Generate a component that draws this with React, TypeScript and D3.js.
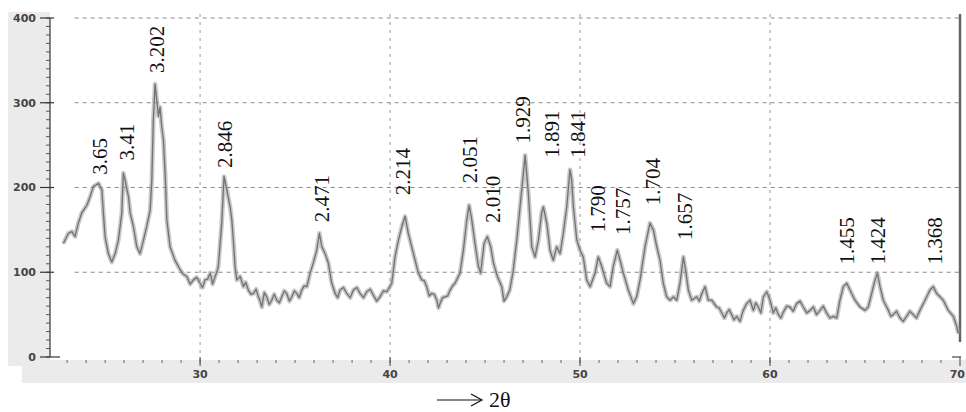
import React from "react";
import * as d3 from "d3";

// XRD trace: [2theta, counts]
const pattern: [number, number][] = [
  [22.8, 134], [23.07, 146], [23.25, 148], [23.42, 142], [23.59, 158], [23.77, 170],
  [24.04, 179], [24.21, 189], [24.38, 201], [24.65, 205], [24.83, 197], [24.91, 170],
  [25.0, 142], [25.17, 122], [25.35, 112], [25.53, 122], [25.7, 138], [25.88, 170],
  [25.96, 217], [26.05, 209], [26.23, 189], [26.32, 170], [26.49, 154], [26.67, 130],
  [26.84, 122], [27.02, 138], [27.19, 154], [27.37, 173], [27.46, 209], [27.54, 280],
  [27.63, 322], [27.72, 303], [27.81, 284], [27.89, 295], [27.98, 272], [28.07, 256],
  [28.16, 217], [28.25, 162], [28.42, 130], [28.68, 114], [28.95, 103], [29.1, 98],
  [29.3, 95], [29.48, 86], [29.65, 91], [29.82, 94], [30.0, 87], [30.13, 82],
  [30.26, 91], [30.4, 92], [30.53, 99], [30.66, 86], [30.79, 95], [30.88, 100],
  [30.96, 107], [31.14, 158], [31.26, 213], [31.41, 197], [31.58, 177], [31.67, 162],
  [31.75, 138], [31.84, 107], [31.93, 91], [32.11, 95], [32.28, 83], [32.4, 88],
  [32.54, 79], [32.68, 74], [32.81, 75], [32.95, 80], [33.07, 71], [33.16, 66],
  [33.25, 59], [33.38, 76], [33.51, 71], [33.64, 62], [33.77, 67], [33.9, 74],
  [34.04, 67], [34.17, 64], [34.3, 71], [34.43, 78], [34.56, 75], [34.7, 66],
  [34.83, 71], [34.96, 78], [35.09, 75], [35.22, 70], [35.35, 79], [35.48, 84],
  [35.62, 83], [35.79, 99], [35.96, 111], [36.14, 126], [36.28, 146], [36.41, 130],
  [36.58, 122], [36.75, 111], [36.93, 87], [37.11, 75], [37.24, 70], [37.37, 79],
  [37.55, 82], [37.72, 75], [37.9, 70], [38.07, 79], [38.25, 82], [38.42, 75],
  [38.6, 70], [38.77, 77], [38.95, 80], [39.12, 73], [39.3, 66], [39.47, 71],
  [39.65, 78], [39.83, 77], [40.09, 87], [40.26, 118], [40.44, 138], [40.62, 154],
  [40.79, 166], [40.96, 146], [41.14, 130], [41.32, 114], [41.49, 99], [41.67, 91],
  [41.8, 90], [41.93, 83], [42.06, 72], [42.19, 75], [42.33, 74], [42.46, 67],
  [42.55, 58], [42.63, 63], [42.76, 70], [42.89, 71], [43.03, 72], [43.16, 79],
  [43.29, 84], [43.42, 87], [43.68, 99], [43.86, 126], [44.04, 162], [44.16, 179],
  [44.3, 162], [44.47, 134], [44.65, 107], [44.77, 99], [44.95, 134], [45.12, 142],
  [45.3, 130], [45.44, 111], [45.65, 95], [45.88, 83], [46.0, 66], [46.14, 71],
  [46.3, 79], [46.47, 100], [46.67, 138], [46.84, 177], [47.02, 217], [47.11, 238],
  [47.19, 217], [47.28, 193], [47.46, 130], [47.63, 118], [47.81, 138], [47.98, 170],
  [48.07, 177], [48.25, 158], [48.42, 126], [48.59, 114], [48.77, 130], [48.95, 122],
  [49.12, 146], [49.3, 177], [49.47, 221], [49.56, 209], [49.65, 177], [49.83, 138],
  [50.0, 126], [50.17, 118], [50.35, 91], [50.53, 83], [50.79, 99], [50.96, 118],
  [51.14, 107], [51.4, 87], [51.58, 83], [51.75, 107], [51.96, 126], [52.11, 114],
  [52.28, 99], [52.54, 79], [52.81, 63], [52.98, 71], [53.16, 91], [53.42, 130],
  [53.68, 158], [53.86, 150], [54.04, 130], [54.21, 114], [54.38, 87], [54.56, 71],
  [54.74, 67], [54.91, 71], [55.09, 67], [55.26, 87], [55.44, 118], [55.58, 99],
  [55.7, 79], [55.88, 67], [56.14, 71], [56.28, 66], [56.41, 75], [56.58, 83],
  [56.75, 67], [56.93, 67], [57.19, 59], [57.32, 58], [57.46, 52], [57.6, 46],
  [57.72, 52], [57.85, 56], [57.98, 50], [58.1, 44], [58.25, 48], [58.42, 42],
  [58.52, 50], [58.59, 55], [58.77, 63], [58.95, 67], [59.12, 55], [59.25, 64],
  [59.38, 59], [59.52, 52], [59.65, 71], [59.83, 77], [60.0, 67], [60.17, 52],
  [60.3, 58], [60.44, 50], [60.57, 46], [60.7, 53], [60.88, 60], [61.05, 59],
  [61.22, 54], [61.4, 63], [61.58, 66], [61.75, 59], [61.93, 52], [62.11, 55],
  [62.28, 59], [62.45, 50], [62.63, 55], [62.8, 60], [62.98, 52], [63.15, 46],
  [63.33, 48], [63.51, 46], [63.68, 67], [63.86, 83], [64.04, 87], [64.21, 79],
  [64.47, 67], [64.74, 59], [65.0, 55], [65.17, 59], [65.35, 75], [65.53, 91],
  [65.65, 99], [65.79, 83], [65.96, 67], [66.23, 55], [66.36, 48], [66.49, 50],
  [66.66, 54], [66.84, 46], [67.01, 42], [67.19, 48], [67.36, 54], [67.54, 50],
  [67.71, 46], [67.89, 55], [68.16, 67], [68.42, 79], [68.59, 83], [68.77, 75],
  [68.95, 71], [69.12, 67], [69.38, 55], [69.65, 48], [69.83, 36], [69.91, 28],
];

// d-spacing labels and where their text starts (2theta, counts)
const peakLabels = ["3.65", "3.41", "3.202", "2.846", "2.471", "2.214", "2.051", "2.010", "1.929",
  "1.891", "1.841", "1.790", "1.757", "1.704", "1.657", "1.455", "1.424", "1.368"];
const peakTheta = [24.74, 26.16, 27.74, 31.32, 36.42, 40.68, 44.21, 45.42, 47.0,
  48.53, 49.89, 50.95, 52.26, 53.84, 55.53, 64.05, 65.68, 68.68];
const peakBase = [215, 232, 335, 223, 159, 191, 205, 158, 252,
  235, 235, 147, 144, 179, 138, 109, 109, 109];

const yTicks = [0, 100, 200, 300, 400];
const xTicks = [30, 40, 50, 60, 70];

const W = 966, H = 412;

export default function App() {
  const x = d3.scaleLinear().domain([22.1, 70]).range([50, 960]);
  const y = d3.scaleLinear().domain([0, 400]).range([357, 18]);

  const line = d3.line<[number, number]>()
    .x(d => x(d[0]))
    .y(d => y(d[1]))
    .curve(d3.curveLinear);
  const path = line(pattern) || "";

  const yMinor = d3.range(0, 401, 10);
  const xMinor = d3.range(23, 70, 1);
  const tickFont = { fontFamily: "DejaVu Sans", fontWeight: "bold" as const, fontSize: 11, fill: "#444" };

  return (
    <svg width={W} height={H} style={{ position: "absolute", left: 0, top: 0, background: "#fff" }}>
      {/* scanned frame bands */}
      <rect x={8} y={12} width={42} height={371} fill="#ebebeb" />
      <rect x={8} y={360} width={958} height={23} fill="#ebebeb" />
      <rect x={8} y={366} width={14} height={17} fill="#fff" />
      <rect x={50} y={12} width={910} height={348} fill="#fff" />

      {/* grid */}
      {yTicks.filter(t => t > 0).map(t => (
        <line key={"gy" + t} x1={x(23.4)} x2={960} y1={y(t)} y2={y(t)}
          stroke="#888" strokeWidth={1} strokeDasharray="4,4" />
      ))}
      {xTicks.filter(t => t < 70).map(t => (
        <line key={"gx" + t} x1={x(t)} x2={x(t)} y1={14} y2={360}
          stroke="#999" strokeWidth={1} strokeDasharray="3,5" />
      ))}

      {/* y axis */}
      <line x1={50} x2={50} y1={y(400)} y2={y(0)} stroke="#333" strokeWidth={1.2} />
      {yMinor.map(t => (
        <line key={"ym" + t} x1={46} x2={50} y1={y(t)} y2={y(t)} stroke="#555" strokeWidth={1} />
      ))}
      {yTicks.map(t => (
        <g key={"yt" + t}>
          <line x1={40} x2={t === 0 ? 60 : 54} y1={y(t)} y2={y(t)} stroke="#333" strokeWidth={1.2} />
          <text x={36} y={y(t)} dy="0.35em" textAnchor="end" {...tickFont}>{t}</text>
        </g>
      ))}

      {/* x axis */}
      {xMinor.map(t => (
        <line key={"xm" + t} x1={x(t)} x2={x(t)} y1={360} y2={363} stroke="#666" strokeWidth={1} />
      ))}
      {xTicks.map(t => (
        <g key={"xt" + t}>
          <line x1={x(t)} x2={x(t)} y1={357} y2={366} stroke="#444" strokeWidth={1} />
          <text x={t === 70 ? W - 1 : x(t)} y={378} textAnchor={t === 70 ? "end" : "middle"} {...tickFont}>{t}</text>
        </g>
      ))}
      <line x1={952} x2={961} y1={357} y2={357} stroke="#444" strokeWidth={1.2} />

      {/* right border */}
      <line x1={960} x2={960} y1={14} y2={342} stroke="#666" strokeWidth={2.5} />

      {/* trace */}
      <path d={path} fill="none" stroke="#9a9a9a" strokeWidth={4.5} strokeLinejoin="round" opacity={0.55} />
      <path d={path} fill="none" stroke="#727272" strokeWidth={1.3} strokeLinejoin="round" />

      {/* peak labels */}
      {peakLabels.map((lab, i) => {
        const px = x(peakTheta[i]);
        const py = y(peakBase[i]);
        return (
          <text key={lab} transform={`translate(${px},${py}) rotate(-90)`}
            dominantBaseline="central" fontFamily="Liberation Serif" fontSize={21} fill="#111">
            {lab}
          </text>
        );
      })}

      {/* axis caption */}
      <line x1={437} x2={481} y1={400} y2={400} stroke="#111" strokeWidth={1.2} />
      <path d="M471,394 L482,400 L471,406" fill="none" stroke="#111" strokeWidth={1.2} />
      <text x={489} y={407} fontFamily="Liberation Serif" fontSize={22} fill="#111">2θ</text>
    </svg>
  );
}
